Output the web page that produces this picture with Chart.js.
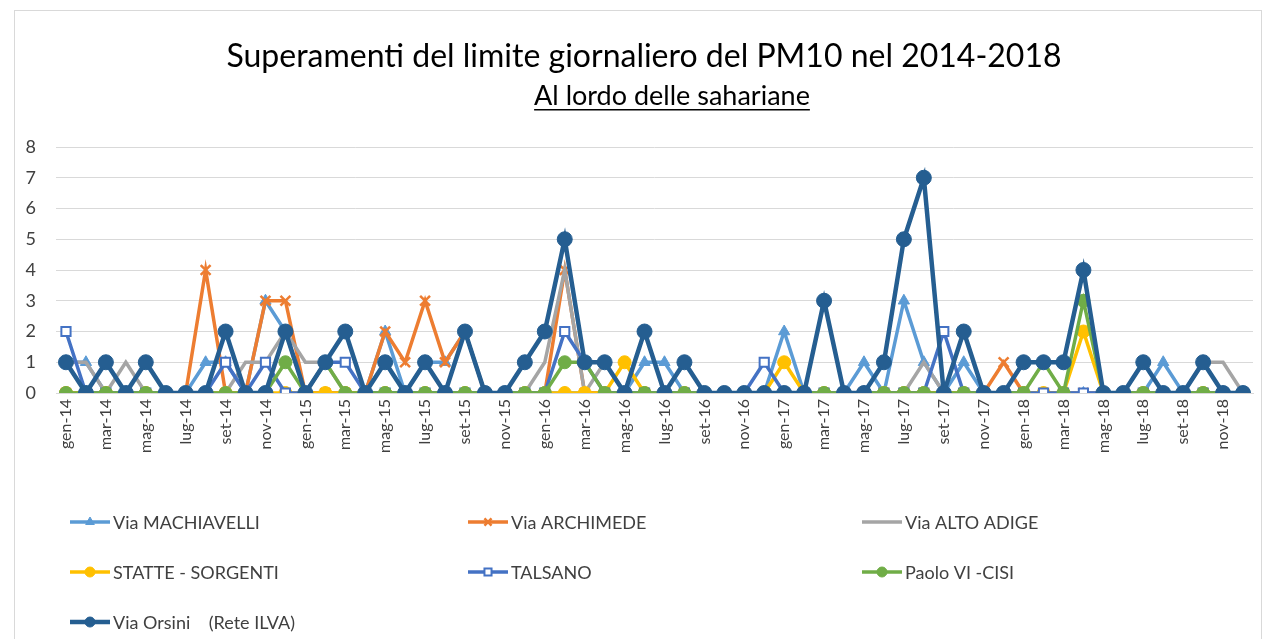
<!DOCTYPE html>
<html>
<head>
<meta charset="utf-8">
<script src="https://cdn.jsdelivr.net/npm/chart.js@4/dist/chart.umd.min.js"></script>
<style>
html, body { margin: 0; padding: 0; background: #fff; }
#wrap { position: absolute; left: 0; top: 0; width: 1269px; height: 639px; overflow: hidden; }
#frame { position: absolute; left: 14px; top: 10px; width: 1246px; height: 660px; border: 1px solid #d9d9d9; }
canvas { position: absolute; left: 0; top: 0; }
</style>
</head>
<body>
<div id="wrap">
  <div id="frame"></div>
  <canvas id="pm10Chart" width="1269" height="639"></canvas>
</div>
<script>
// months gen-14 .. dic-18
const months = [
  'gen-14','feb-14','mar-14','apr-14','mag-14','giu-14','lug-14','ago-14','set-14','ott-14','nov-14','dic-14',
  'gen-15','feb-15','mar-15','apr-15','mag-15','giu-15','lug-15','ago-15','set-15','ott-15','nov-15','dic-15',
  'gen-16','feb-16','mar-16','apr-16','mag-16','giu-16','lug-16','ago-16','set-16','ott-16','nov-16','dic-16',
  'gen-17','feb-17','mar-17','apr-17','mag-17','giu-17','lug-17','ago-17','set-17','ott-17','nov-17','dic-17',
  'gen-18','feb-18','mar-18','apr-18','mag-18','giu-18','lug-18','ago-18','set-18','ott-18','nov-18','dic-18'
];

const machiavelli = [1,1,0,0,0,0,0,1,1,0, 3,2,0,0,0,0,2,0,1,1, 2,0,0,0,0,0,0,0,0,1, 1,0,0,0,0,0,2,0,0,0, 1,0,3,1,0,1,0,0,0,0, 0,0,0,0,0,1,0,0,0,0];
const archimede   = [0,0,0,0,0,0,0,4,0,0, 3,3,0,0,0,0,2,1,3,1, 2,0,0,0,0,4,0,0,0,0, 0,0,0,0,0,0,0,0,0,0, 0,0,0,0,0,0,0,1,0,0, 0,0,0,0,0,0,0,0,0,0];
const altoAdige   = [1,1,0,1,0,0,0,0,0,1, 1,2,1,1,0,0,0,0,0,0, 0,0,0,0,1,4,0,1,0,0, 0,0,0,0,0,0,0,0,0,0, 0,0,0,1,0,0,0,0,0,0, 0,0,0,0,0,0,0,1,1,0];
const statte      = [0,0,0,0,0,0,0,0,0,0, 0,0,0,0,0,0,0,0,0,0, 0,0,0,0,0,0,0,0,1,0, 0,0,0,0,0,0,1,0,0,0, 0,0,0,0,0,0,0,0,0,0, 0,2,0,0,0,0,0,0,0,0];
const talsano     = [2,0,0,0,0,0,0,0,1,0, 1,0,0,1,1,0,0,0,0,0, 0,0,0,0,0,2,1,0,0,0, 0,0,0,0,0,1,0,0,0,0, 0,0,0,0,2,0,0,0,0,0, 0,0,0,0,0,0,0,0,0,0];
const paoloVI     = [0,0,0,0,0,0,0,0,0,0, 0,1,0,1,0,0,0,0,0,0, 0,0,0,0,0,1,1,0,0,0, 0,0,0,0,0,0,0,0,0,0, 0,0,0,0,0,0,0,0,0,1, 0,3,0,0,0,0,0,0,0,0];
const orsini      = [1,0,1,0,1,0,0,0,2,0, 0,2,0,1,2,0,1,0,1,0, 2,0,0,1,2,5,1,1,0,2, 0,1,0,0,0,0,0,0,3,0, 0,1,5,7,0,2,0,0,1,1, 1,4,0,0,1,0,0,1,0,0];

const yTicks = [0,1,2,3,4,5,6,7,8];
const titleText = 'Superamenti del limite giornaliero del PM10 nel 2014-2018';
const subtitleText = 'Al lordo delle sahariane';

function series(label, data, color, style, extra) {
  return Object.assign({
    label: label,
    data: data,
    borderColor: color,
    backgroundColor: color,
    pointBackgroundColor: color,
    pointBorderColor: color,
    borderWidth: 3.5,
    pointStyle: style,
    pointRadius: style ? 6 : 0,
    pointBorderWidth: 1,
    tension: 0
  }, extra || {});
}

const datasets = [
  series('Via MACHIAVELLI', machiavelli, '#5b9bd5', 'triangle', { pointRadius: 6.5 }),
  series('Via ARCHIMEDE', archimede, '#ed7d31', 'crossRot', { pointRadius: 7, pointBorderWidth: 2.5 }),
  series('Via ALTO ADIGE', altoAdige, '#a5a5a5', false),
  series('STATTE - SORGENTI', statte, '#ffc000', 'circle', { pointRadius: 6.5 }),
  series('TALSANO', talsano, '#4472c4', 'rect', { pointRadius: 6.5, pointBackgroundColor: '#ffffff', pointBorderWidth: 2 }),
  series('Paolo VI -CISI', paoloVI, '#70ad47', 'circle', { pointRadius: 6.5 }),
  series('Via Orsini    (Rete ILVA)', orsini, '#255e91', 'circle', { pointRadius: 7.5, borderWidth: 4.5 })
];
// excel draws later series on top
datasets.forEach((d, i) => { d.order = datasets.length - 1 - i; });

const legendCols = [70, 468, 862];
const legendRows = [522, 572, 622];

const headerPlugin = {
  id: 'header',
  afterDraw(chart) {
    const ctx = chart.ctx;
    ctx.save();
    ctx.fillStyle = '#000';
    ctx.textAlign = 'center';
    ctx.textBaseline = 'alphabetic';
    ctx.font = '32px Lato';
    ctx.fillText(titleText, 644, 67);
    ctx.font = '27px Lato';
    ctx.fillText(subtitleText, 672, 105);
    const w = ctx.measureText(subtitleText).width;
    ctx.fillRect(672 - w / 2, 109, w, 1.5);
    ctx.restore();
  }
};

const legendPlugin = {
  id: 'gridLegend',
  afterDraw(chart) {
    const ctx = chart.ctx;
    ctx.save();
    chart.data.datasets.forEach((ds, i) => {
      const x = legendCols[i % 3];
      const y = legendRows[Math.floor(i / 3)];
      ctx.strokeStyle = ds.borderColor;
      ctx.lineWidth = ds.borderWidth;
      ctx.beginPath();
      ctx.moveTo(x, y);
      ctx.lineTo(x + 40, y);
      ctx.stroke();
      if (ds.pointStyle) {
        ctx.fillStyle = ds.pointBackgroundColor;
        ctx.strokeStyle = ds.pointBorderColor;
        ctx.lineWidth = ds.pointBorderWidth;
        Chart.helpers.drawPoint(ctx, {
          pointStyle: ds.pointStyle,
          radius: 5,
          rotation: 0,
          borderWidth: ds.pointBorderWidth
        }, x + 20, y);
      }
      ctx.fillStyle = '#404040';
      ctx.font = '18px Lato';
      ctx.textAlign = 'left';
      ctx.textBaseline = 'middle';
      ctx.fillText(ds.label, x + 43, y + 1);
    });
    ctx.restore();
  }
};

const ctx = document.getElementById('pm10Chart').getContext('2d');
const pm10Chart = new Chart(ctx, {
  type: 'line',
  data: { labels: months, datasets: datasets },
  options: {
    responsive: false,
    animation: false,
    layout: { padding: { left: 16, right: 16, top: 147, bottom: 176 } },
    plugins: {
      legend: { display: false },
      title: { display: false },
      tooltip: { enabled: false }
    },
    scales: {
      x: {
        offset: true,
        grid: { display: false, drawTicks: false },
        border: { display: true, color: '#d9d9d9' },
        ticks: {
          autoSkip: false,
          minRotation: 90,
          maxRotation: 90,
          padding: 6,
          color: '#404040',
          font: { family: 'Lato', size: 16 },
          callback: function (val, idx) { return idx % 2 === 0 ? this.getLabelForValue(val) : ''; }
        },
        afterFit(scale) { scale.height = 70; }
      },
      y: {
        min: yTicks[0],
        max: yTicks[yTicks.length - 1],
        grid: { color: '#d9d9d9', drawTicks: false },
        border: { display: false },
        ticks: {
          stepSize: 1,
          padding: 20,
          color: '#404040',
          font: { family: 'Lato', size: 18 }
        },
        afterFit(scale) { scale.width = 40; }
      }
    }
  },
  plugins: [headerPlugin, legendPlugin]
});
</script>
</body>
</html>
